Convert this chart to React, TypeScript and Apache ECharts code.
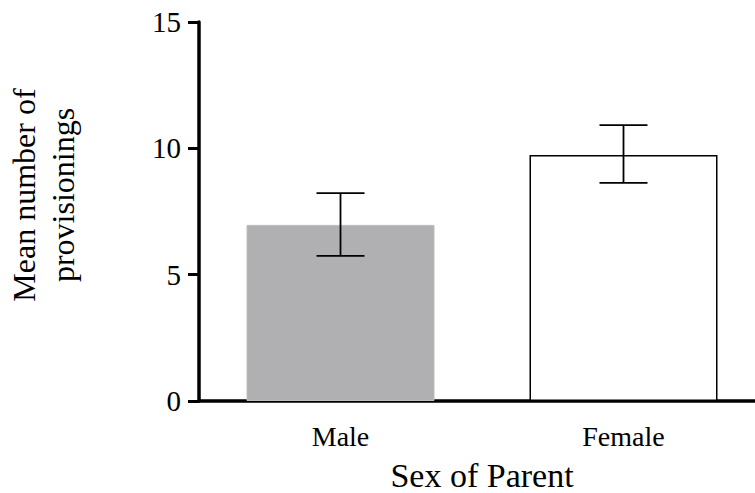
import React, { useEffect, useRef } from "react";
import * as echarts from "echarts";

const categories = ["Male", "Female"];
const means = [6.97, 9.74];
const errLow = [5.74, 8.63];
const errHigh = [8.23, 10.92];
const yTicks = [0, 5, 10, 15];

const FONT = "'Liberation Serif', 'Times New Roman', serif";

export default function App() {
  const ref = useRef<HTMLDivElement>(null);
  useEffect(() => {
    document.body.style.margin = "0";
    const chart = echarts.init(ref.current!, null, { renderer: "svg" });
    const barColors = [
      { color: "#b0b0b2", borderColor: "#bdbdbf", borderWidth: 1 },
      { color: "#ffffff", borderColor: "#000000", borderWidth: 1.5 },
    ];
    chart.setOption({
      animation: false,
      backgroundColor: "#ffffff",
      grid: {
        left: 199,
        top: 22,
        bottom: 92,
        right: -10,
        containLabel: false,
        outerBoundsMode: "none",
      },
      xAxis: {
        type: "category",
        data: categories,
        name: "Sex of Parent",
        nameLocation: "middle",
        nameGap: 57,
        nameTextStyle: { fontFamily: FONT, fontSize: 34, lineHeight: 34, color: "#000" },
        axisLine: { lineStyle: { color: "#000", width: 3.5 } },
        axisTick: { alignWithLabel: true, length: 10, lineStyle: { color: "#000", width: 3 } },
        axisLabel: { fontFamily: FONT, fontSize: 28, color: "#000", margin: 21 },
      },
      yAxis: {
        type: "value",
        min: yTicks[0],
        max: yTicks[yTicks.length - 1],
        interval: 5,
        splitLine: { show: false },
        axisLine: { show: true, lineStyle: { color: "#000", width: 3.5 } },
        axisTick: { show: true, length: 11, lineStyle: { color: "#000", width: 3 } },
        axisLabel: { fontFamily: FONT, fontSize: 29, color: "#000", margin: 18 },
      },
      graphic: [
        {
          type: "text",
          x: 43,
          y: 195,
          rotation: Math.PI / 2,
          style: {
            text: "Mean number of\nprovisionings",
            fontFamily: FONT,
            fontSize: 32,
            lineHeight: 39,
            fill: "#000",
            textAlign: "center",
            textVerticalAlign: "middle",
          },
        },
      ],
      series: [
        {
          type: "bar",
          barWidth: 188,
          data: means.map((v, i) => ({ value: v, itemStyle: barColors[i] })),
          z: 2,
        },
        {
          type: "custom",
          z: 5,
          data: categories.map((_, i) => [i, errLow[i], errHigh[i]]),
          encode: { x: 0, y: [1, 2] },
          renderItem: (params: any, api: any) => {
            const idx = api.value(0);
            const lo = api.coord([idx, api.value(1)]);
            const hi = api.coord([idx, api.value(2)]);
            const hw = 24;
            const style = { stroke: "#000", lineWidth: 1.8 };
            return {
              type: "group",
              children: [
                { type: "line", shape: { x1: hi[0], y1: hi[1], x2: lo[0], y2: lo[1] }, style },
                { type: "line", shape: { x1: hi[0] - hw, y1: hi[1], x2: hi[0] + hw, y2: hi[1] }, style },
                { type: "line", shape: { x1: lo[0] - hw, y1: lo[1], x2: lo[0] + hw, y2: lo[1] }, style },
              ],
            };
          },
        },
      ],
    });
    return () => chart.dispose();
  }, []);
  return <div ref={ref} style={{ width: 755, height: 493 }} />;
}
